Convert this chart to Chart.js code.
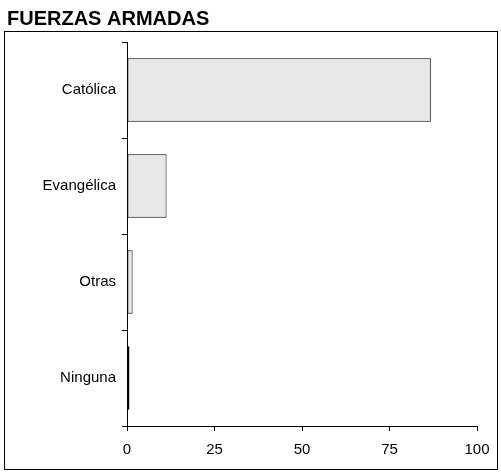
<!DOCTYPE html>
<html>
<head>
<meta charset="utf-8">
<script src="https://cdn.jsdelivr.net/npm/chart.js@4.4.0/dist/chart.umd.js"></script>
<style>
    html, body { margin: 0; padding: 0; background: #ffffff; }
    #wrap { width: 501px; height: 472px; position: relative; }
</style>
</head>
<body>
<div id="wrap"><canvas id="religionChart"></canvas></div>
<script>
// Religion shares (%) among the armed forces
const categories = ['Católica', 'Evangélica', 'Otras', 'Ninguna'];
const percentages = [86.8, 11.3, 1.6, 0.7];
const xTicks = [0, 25, 50, 75, 100];

const FONT = "Arial, 'Liberation Sans', sans-serif";

// Thin frame around the plot, below the title
const framePlugin = {
    id: 'frame',
    beforeDraw(chart) {
        const ctx = chart.ctx;
        ctx.save();
        ctx.strokeStyle = '#000000';
        ctx.lineWidth = 1;
        ctx.strokeRect(4.5, 31.5, 493, 438);
        ctx.restore();
    }
};

new Chart(document.getElementById('religionChart'), {
    type: 'bar',
    data: {
        labels: categories,
        datasets: [{
            data: percentages,
            backgroundColor: '#e8e8e8',
            borderColor: '#000000',
            borderWidth: 1,
            borderSkipped: false,
            barPercentage: 0.66,
            categoryPercentage: 1
        }]
    },
    options: {
        indexAxis: 'y',
        responsive: true,
        maintainAspectRatio: false,
        animation: false,
        layout: {
            padding: { left: 7, right: 24, top: 0, bottom: 0 }
        },
        plugins: {
            legend: { display: false },
            tooltip: { enabled: false },
            title: {
                display: true,
                text: 'FUERZAS ARMADAS',
                align: 'start',
                color: '#000000',
                font: { family: FONT, size: 20, weight: 'bold', lineHeight: 1 },
                padding: { top: 9, bottom: 13 }
            }
        },
        scales: {
            x: {
                min: 0,
                max: 100,
                afterBuildTicks(scale) {
                    scale.ticks = xTicks.map(v => ({ value: v }));
                },
                afterFit(scale) { scale.height = 46; },
                border: { display: true, color: '#000000', width: 1 },
                grid: {
                    drawOnChartArea: false,
                    drawTicks: true,
                    tickLength: 5,
                    color: '#000000'
                },
                ticks: {
                    color: '#000000',
                    padding: 10,
                    maxRotation: 0,
                    font: { family: FONT, size: 15 }
                }
            },
            y: {
                offset: true,
                afterFit(scale) { scale.width = 120; },
                border: { display: true, color: '#000000', width: 1 },
                grid: {
                    offset: true,
                    drawOnChartArea: false,
                    drawTicks: true,
                    tickLength: 5,
                    color: '#000000'
                },
                ticks: {
                    color: '#000000',
                    padding: 6,
                    font: { family: FONT, size: 15 }
                }
            }
        }
    },
    plugins: [framePlugin]
});
</script>
</body>
</html>
